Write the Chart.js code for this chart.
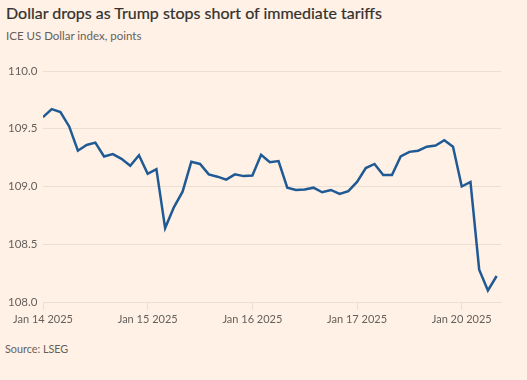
<!DOCTYPE html>
<html><head><meta charset="utf-8">
<script src="https://cdn.jsdelivr.net/npm/chart.js@4.4.1/dist/chart.umd.min.js"></script>
<style>
html,body{margin:0;padding:0;background:#fff1e5;}
#wrap{position:relative;width:527px;height:380px;overflow:hidden;font-family:Lato,sans-serif;}
#title{position:absolute;left:6px;top:3px;font-size:16px;color:#33302e;font-weight:400;white-space:nowrap;-webkit-text-stroke:0.2px #33302e;}
#sub{position:absolute;left:6px;top:29px;font-size:11.5px;color:#66605c;white-space:nowrap;}
#src{position:absolute;left:5px;top:342px;font-size:10.8px;color:#66605c;white-space:nowrap;}
canvas{position:absolute;left:0;top:0;}
</style></head>
<body><div id="wrap">
<div id="title">Dollar drops as Trump stops short of immediate tariffs</div>
<div id="sub">ICE US Dollar index, points</div>
<div id="src">Source: LSEG</div>
<canvas id="c" width="527" height="380"></canvas>
</div>
<script>
const dayLabels = ["Jan 14 2025","Jan 15 2025","Jan 16 2025","Jan 17 2025","Jan 20 2025"];
const dayStartIndex = [0,12,24,36,48];
const yTicks = [108.0,108.5,109.0,109.5,110.0];
const dxy = [
 109.60,109.67,109.645,109.52,109.31,109.36,109.38,109.26,109.28,109.24,109.18,109.27,
 109.11,109.15,108.64,108.82,108.955,109.215,109.195,109.105,109.085,109.06,109.105,109.09,
 109.095,109.275,109.21,109.22,108.99,108.97,108.975,108.99,108.95,108.97,108.935,108.96,
 109.04,109.16,109.195,109.10,109.10,109.26,109.30,109.31,109.345,109.355,109.40,109.345,
 109.0,109.04,108.28,108.10,108.225
];
const points = dxy.map((v,i)=>({x:i,y:v}));
const tickColor = "#66605c";
const gridColor = "#ebdfd4";
new Chart(document.getElementById('c'),{
 type:'line',
 data:{datasets:[{data:points,borderColor:'#1f5a95',borderWidth:2.5,pointRadius:0,tension:0,fill:false}]},
 options:{
  responsive:false,animation:false,
  layout:{padding:{left:8,top:71,right:26,bottom:48}},
  plugins:{legend:{display:false},tooltip:{enabled:false}},
  scales:{
   x:{type:'linear',min:0,max:52.5,
      afterBuildTicks:s=>{s.ticks=dayStartIndex.map(v=>({value:v}));},
      afterFit:s=>{s.height=30;},
      ticks:{color:tickColor,font:{family:"Lato",size:11},padding:3,maxRotation:0,autoSkip:false,
        callback:(v)=>{const k=dayStartIndex.indexOf(v);return k>=0?dayLabels[k]:'';}},
      grid:{drawOnChartArea:false,drawTicks:true,tickLength:8,color:gridColor},
      border:{display:true,color:gridColor}},
   y:{min:108,max:110,
      afterBuildTicks:s=>{s.ticks=yTicks.map(v=>({value:v}));},
      afterFit:s=>{s.width=35;},
      ticks:{color:tickColor,font:{family:"Lato",size:11.5},crossAlign:'far',padding:0,
        callback:v=>Number(v).toFixed(1)},
      grid:{color:gridColor,drawTicks:false},
      border:{display:false}}
  }
 }
});
</script>
</body></html>
